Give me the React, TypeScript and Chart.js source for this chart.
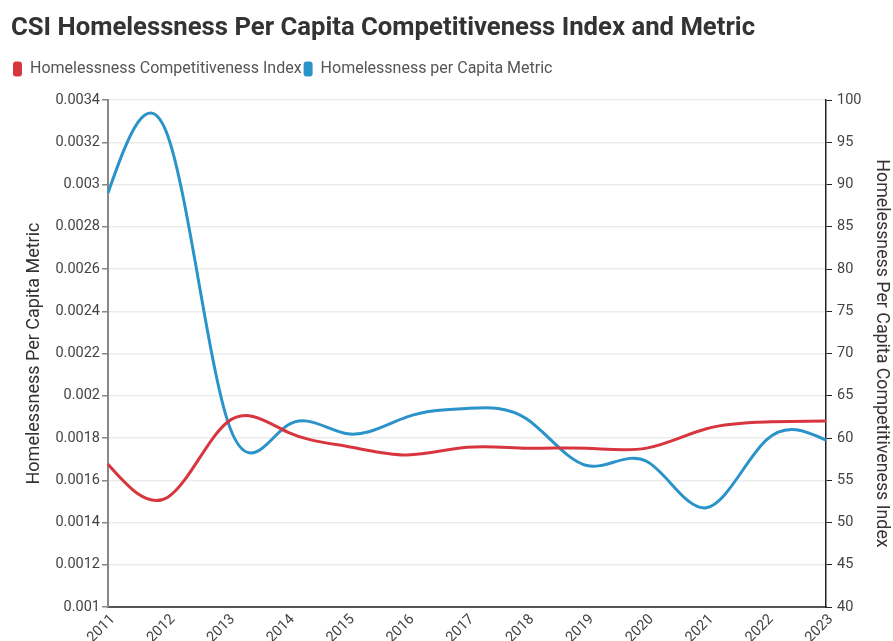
import { useEffect, useRef } from "react";
import { Chart, registerables } from "chart.js";

Chart.register(...registerables);

const years = ["2011", "2012", "2013", "2014", "2015", "2016", "2017", "2018", "2019", "2020", "2021", "2022", "2023"];
const competitivenessIndex = [56.9, 53.0, 61.9, 60.7, 59.0, 58.0, 58.9, 58.8, 58.8, 58.8, 61.1, 61.9, 62.0];
const perCapitaMetric = [0.00296, 0.00323, 0.00188, 0.00186, 0.00182, 0.0019, 0.00194, 0.00189, 0.00167, 0.00169, 0.00147, 0.00179, 0.00179];

const RED = "#d8363e";
const BLUE = "#2a93c9";

// natural cubic spline control points (same scheme as a "natural" curve)
function naturalControls(v: number[]): [number[], number[]] {
  const n = v.length - 1;
  const a: number[] = new Array(n);
  const b: number[] = new Array(n);
  const r: number[] = new Array(n);
  a[0] = 0;
  b[0] = 2;
  r[0] = v[0] + 2 * v[1];
  for (let i = 1; i < n - 1; i++) {
    a[i] = 1;
    b[i] = 4;
    r[i] = 4 * v[i] + 2 * v[i + 1];
  }
  a[n - 1] = 2;
  b[n - 1] = 7;
  r[n - 1] = 8 * v[n - 1] + v[n];
  for (let i = 1; i < n; i++) {
    const m = a[i] / b[i - 1];
    b[i] -= m;
    r[i] -= m * r[i - 1];
  }
  a[n - 1] = r[n - 1] / b[n - 1];
  for (let i = n - 2; i >= 0; i--) a[i] = (r[i] - a[i + 1]) / b[i];
  b[n - 1] = (v[n] + a[n - 1]) / 2;
  for (let i = 0; i < n - 1; i++) b[i] = 2 * v[i + 1] - a[i + 1];
  return [a, b];
}

const naturalCurve = {
  id: "naturalCurve",
  beforeDatasetsDraw(chart: any) {
    chart.data.datasets.forEach((_: any, di: number) => {
      const meta = chart.getDatasetMeta(di);
      const pts = meta.data as any[];
      if (!pts || pts.length < 3) return;
      const [ax, bx] = naturalControls(pts.map((p) => p.x));
      const [ay, by] = naturalControls(pts.map((p) => p.y));
      for (let i = 0; i < pts.length - 1; i++) {
        pts[i].cp2x = ax[i];
        pts[i].cp2y = ay[i];
        pts[i + 1].cp1x = bx[i];
        pts[i + 1].cp1y = by[i];
      }
      pts[0].cp1x = pts[0].x;
      pts[0].cp1y = pts[0].y;
      const last = pts[pts.length - 1];
      last.cp2x = last.x;
      last.cp2y = last.y;
      meta.dataset._pointsUpdated = true;
      meta.dataset._path = undefined;
    });
  },
};

export default function App() {
  const ref = useRef<HTMLCanvasElement | null>(null);

  useEffect(() => {
    document.body.style.margin = "0";
    const canvas = ref.current;
    if (!canvas) return;
    Chart.defaults.font.family = "Roboto";
    const chart = new Chart(canvas, {
      type: "line",
      data: {
        labels: years,
        datasets: [
          {
            label: "Homelessness Competitiveness Index",
            data: competitivenessIndex,
            borderColor: RED,
            backgroundColor: RED,
            borderWidth: 3,
            pointRadius: 0,
            tension: 0.4,
            yAxisID: "y1",
          },
          {
            label: "Homelessness per Capita Metric",
            data: perCapitaMetric,
            borderColor: BLUE,
            backgroundColor: BLUE,
            borderWidth: 3,
            pointRadius: 0,
            tension: 0.4,
            yAxisID: "y",
          },
        ],
      },
      options: {
        responsive: false,
        animation: false,
        devicePixelRatio: 1,
        layout: { padding: { left: 11, right: 0, top: 0, bottom: 0 } },
        plugins: {
          title: {
            display: true,
            text: "CSI Homelessness Per Capita Competitiveness Index and Metric",
            align: "start",
            color: "#333333",
            font: { size: 25.7, weight: "bold" },
            padding: { top: 13, bottom: 15 },
            weight: 2000,
          },
          legend: {
            display: true,
            position: "top",
            align: "start",
            weight: 1000,
            labels: {
              boxWidth: 9,
              boxHeight: 15,
              useBorderRadius: true,
              borderRadius: 3,
              color: "#555555",
              font: { size: 16 },
              padding: 2,
              generateLabels: (c: any) =>
                (Chart.defaults.plugins.legend.labels as any)
                  .generateLabels(c)
                  .map((l: any) => ({ ...l, lineWidth: 0 })),
            },
          },
          subtitle: {
            display: true,
            text: "",
            position: "top",
            weight: 500,
            font: { size: 10, lineHeight: 1 },
            padding: { top: 3, bottom: 0 },
          },
          tooltip: { enabled: false },
        },
        scales: {
          x: {
            type: "category",
            grid: { display: false, drawTicks: false, tickLength: 0 },
            border: { display: true, color: "#555555", width: 2 },
            ticks: {
              minRotation: 45,
              maxRotation: 45,
              color: "#444444",
              font: { size: 14.5 },
              padding: 4,
              labelOffset: 5,
            },
            afterFit: (s: any) => {
              s.height = 34;
            },
          },
          y: {
            type: "linear",
            position: "left",
            min: 0.001,
            max: 0.0034,
            ticks: {
              stepSize: 0.0002,
              color: "#444444",
              font: { size: 14.5 },
              padding: 2,
              callback: (v: any) => String(parseFloat(Number(v).toFixed(6))),
            },
            grid: {
              color: "#ececec",
              lineWidth: 1.5,
              tickColor: "#888888",
              tickLength: 6,
            },
            border: { display: true, color: "#888888", width: 2 },
            title: {
              display: true,
              text: "Homelessness Per Capita Metric",
              color: "#333333",
              font: { size: 18 },
              padding: { top: 13, bottom: 0 },
            },
            afterFit: (s: any) => {
              s.width = 97;
              s.paddingTop = 100;
            },
          },
          y1: {
            type: "linear",
            position: "right",
            min: 40,
            max: 100,
            ticks: {
              stepSize: 5,
              color: "#444444",
              font: { size: 14.5 },
              padding: 5,
            },
            grid: {
              drawOnChartArea: false,
              tickColor: "#222222",
              tickLength: 6,
            },
            border: { display: true, color: "#222222", width: 1.5 },
            title: {
              display: true,
              text: "Homelessness Per Capita Competitiveness Index",
              color: "#333333",
              font: { size: 17.8 },
              padding: { top: 1, bottom: 0 },
            },
            afterFit: (s: any) => {
              s.width = 67;
            },
          },
        },
      },
      plugins: [naturalCurve],
    });
    return () => chart.destroy();
  }, []);

  return (
    <div style={{ width: 893, height: 641, position: "relative" }}>
      <canvas ref={ref} width={893} height={641} style={{ width: 893, height: 641, display: "block" }} />
    </div>
  );
}
